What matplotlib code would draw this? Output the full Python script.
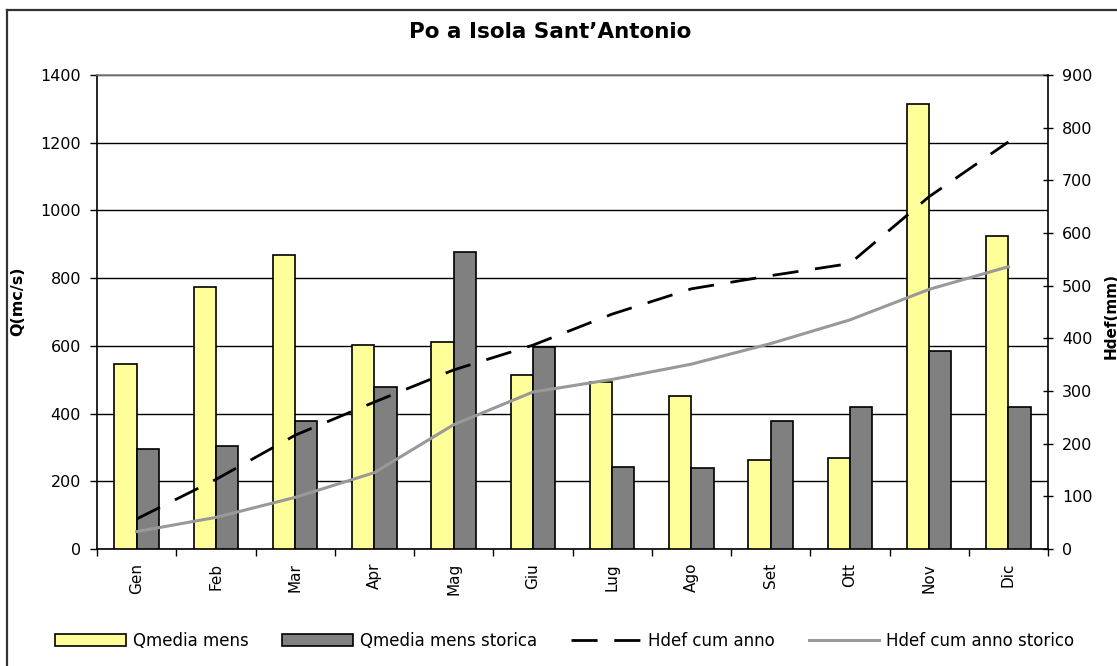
import matplotlib
matplotlib.use("Agg")
import matplotlib.pyplot as plt
import numpy as np
from matplotlib.lines import Line2D

months = ["Gen", "Feb", "Mar", "Apr", "Mag", "Giu", "Lug", "Ago", "Set", "Ott", "Nov", "Dic"]
q_media = [545, 774, 869, 604, 610, 515, 492, 452, 264, 268, 1315, 925]
q_storica = [295, 305, 379, 479, 878, 597, 242, 238, 379, 420, 584, 420]
hdef_cum = [57, 132, 216, 279, 340, 387, 446, 494, 519, 542, 669, 773]
hdef_storico = [33, 60, 98, 145, 236, 298, 322, 351, 390, 435, 493, 536]
left_ticks = [0, 200, 400, 600, 800, 1000, 1200, 1400]
right_ticks = [0, 100, 200, 300, 400, 500, 600, 700, 800, 900]

W, H = 1117, 666
fig = plt.figure(figsize=(W / 100, H / 100), dpi=100)
fig.patch.set_facecolor("white")

x0, x1, yb, yt = 97, 1048, 549, 75
ax = fig.add_axes([x0 / W, 1 - yb / H, (x1 - x0) / W, (yb - yt) / H])
ax.set_facecolor("white")

x = np.arange(len(months))
bw = 0.28
ax.bar(x - bw / 2, q_media, bw, color="#FFFF99", edgecolor="black", linewidth=1.2,
       label="Qmedia mens", zorder=3)
ax.bar(x + bw / 2, q_storica, bw, color="#808080", edgecolor="black", linewidth=1.2,
       label="Qmedia mens storica", zorder=3)

ax.set_xlim(-0.5, len(months) - 0.5)
ax.set_ylim(0, 1400)
ax.set_yticks(left_ticks)
ax.yaxis.grid(True, color="black", linewidth=1.0, zorder=0)
ax.set_axisbelow(True)

ax.set_xticks(x)
ax.set_xticklabels(months, rotation=90, fontsize=11)
ax.set_xticks(np.arange(-0.5, len(months), 1.0), minor=True)
ax.tick_params(axis="x", which="major", length=0, pad=10)
ax.tick_params(axis="x", which="minor", length=5, width=1.0, direction="out", color="black")
ax.tick_params(axis="y", length=5, width=1.0, direction="out", pad=6.5, labelsize=11.5)

for s in ["left", "bottom"]:
    ax.spines[s].set_color("black")
    ax.spines[s].set_linewidth(1.2)
ax.spines["top"].set_color("#808080")
ax.spines["top"].set_linewidth(1.2)
ax.spines["right"].set_visible(False)

ax.set_ylabel("Q(mc/s)", fontsize=11.5, fontweight="bold")
ax.yaxis.set_label_coords((25 - x0) / (x1 - x0), (yb - 301) / (yb - yt))

ax2 = ax.twinx()
ax2.set_ylim(0, 900)
ax2.set_yticks(right_ticks)
ax2.tick_params(axis="y", length=6.5, width=1.0, direction="inout", pad=6.75, labelsize=11.5)
ax2.spines["right"].set_color("black")
ax2.spines["right"].set_linewidth(1.2)
for s in ["left", "top", "bottom"]:
    ax2.spines[s].set_visible(False)
ax2.plot(x, hdef_cum, color="black", linewidth=2.0, dashes=(9.4, 6.0),
         label="Hdef cum anno", zorder=5)
ax2.plot(x, hdef_storico, color="#999999", linewidth=2.2, label="Hdef cum anno storico", zorder=4)
ax2.set_ylabel("Hdef(mm)", fontsize=11, fontweight="bold", rotation=90)
ax2.yaxis.set_label_coords((1104 - x0) / (x1 - x0), (yb - 316) / (yb - yt))

fig.text(550 / W, 1 - 32 / H, "Po a Isola Sant\u2019Antonio", fontsize=15.5,
         fontweight="bold", ha="center", va="center")

h1, l1 = ax.get_legend_handles_labels()
h2, l2 = ax2.get_legend_handles_labels()
fig.legend(h1 + h2, l1 + l2, loc="center", bbox_to_anchor=(565 / W, 1 - 641 / H), ncol=4,
           frameon=False, fontsize=12, handlelength=4.25, handleheight=0.7,
           handletextpad=0.42, columnspacing=2.0, borderaxespad=0)

fig.add_artist(Line2D([7 / W, 7 / W], [0, 1 - 10 / H], transform=fig.transFigure,
                      color="#333333", linewidth=1.6))
fig.add_artist(Line2D([7 / W, 1], [1 - 10 / H, 1 - 10 / H], transform=fig.transFigure,
                      color="#333333", linewidth=1.6))

fig.savefig("out.png", dpi=100)
